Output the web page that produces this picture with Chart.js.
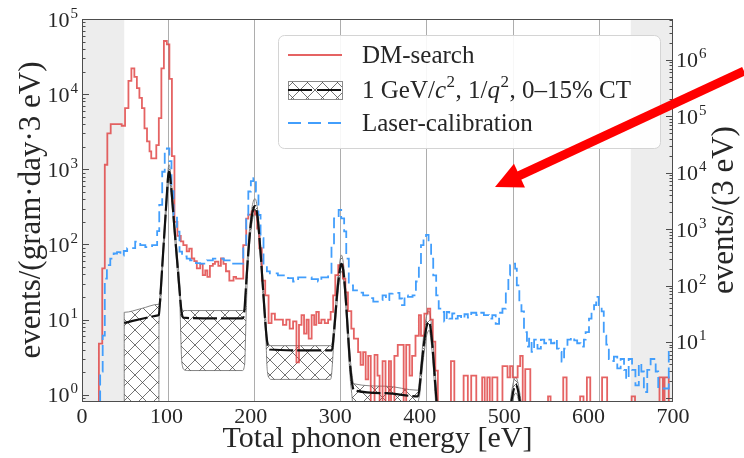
<!DOCTYPE html>
<html><head><meta charset="utf-8">
<script src="https://cdn.jsdelivr.net/npm/chart.js@4.4.1/dist/chart.umd.min.js"></script>
<style>html,body{margin:0;padding:0;background:#fff;overflow:hidden}</style>
</head><body>
<canvas id="c" width="744" height="458"></canvas>
<script>
// ---------------- data ----------------
// DM-search histogram (left axis): bin left edges (eV) + final right edge, and values
const redEdges = [0,20,24,27,30,34,47,51,55,58.5,62,65,68,71,74,77,80,82,88,91,94,97,100.5,103.5,106.5,109.5,113,117,120,124,127,130,133,136,140,143,146,148.5,151.5,155,157.5,161.5,164.5,167.5,170.5,174.5,179.5,182.5,191,194.5,197,201,205,207.5,210,213,217,221,224.5,228.5,238,242,246,250,254,257,260,263,266,268.5,272,275,277.5,280.5,283.5,287.5,291.5,294.5,297.5,300,303.5,309,312,315,319,322,327,330,333,336,339,342,346.5,350,352.5,356,359.5,363.5,366,370,374,381,384,388,391,395,399,401.5,405.5,409.5,412.5,415.5,418.5,421.5,437,441,452,457,461,467,474,477,480,483,486,492,498,504,507,510,516,519,522,525,531,552,555,570,574,590,594,598,602,616,622,651,655,684,688,690,695,700];
const redValues = [0,4.8,48,1150,3000,4000,3800,6500,15000,22000,17000,12000,8900,6500,3500,2350,1730,1400,2100,4800,22000,51000,46000,16000,1500,200,130,110,98,81,88,65,60,48,55,39,45,37,52,55,59,52,65,55,44,33,37,35,98,220,250,275,250,163,89,33,21,9,12,10,8.5,10,7.6,9.5,2.7,8.5,11.5,6.5,10,5.6,11.5,8.5,12.7,9,10,9,10,12.7,21,39,53,35,23,13,7.6,5.6,3.7,2.5,3.7,1.6,3.3,0,3.4,1.8,0,2.8,0,2.8,0,3.3,4.6,0,4.6,1.8,3.3,6.1,11.5,6.1,12,14,10,5.1,2.1,0,2.8,0,1.8,0,1.8,0,1.7,0,1.7,0,1.7,0,2.4,1.7,2.4,1.7,2.4,3.3,0,2.2,0,0.95,0,1.7,0,0.95,0,1.7,0,1.7,0,0.95,0,1.7,0,1.7,0];

// Laser-calibration histogram (right axis)
const blueEdges = [0,21.5,24.5,27,29.5,33.5,37.5,41.5,45.5,49.5,53.5,63,69,75,83,89,91.5,95,98,100.5,103.5,106,108.5,112.5,115.5,118.5,124,128,135,140,148,155,168,179,191,194.5,197,200,203,206,209,211.5,215,219,222.5,232,244,250,256,272,279.5,283.5,291.5,295.5,298.5,301.5,304,307,310.5,313,316,321,327,333,339,345,352,356,360,364,368,376,379,382,386,391.5,395.5,399,401.5,404.5,407.5,410.5,413.5,416,419.5,422.5,425.5,429,432,435,438.5,441,445,449,453,457,461,467,470.5,476,482,486,490,494,498,502,505,507,510,513,515,518,520.5,523.5,527,529.5,532.5,535.5,539.5,543.5,547.5,551.5,555.5,559.5,562.5,565,568,571,575,579,583,586.5,590.5,594.5,596.5,600.5,603.5,606.5,609,612,615.5,618,621,624,627,630,634,638,642,644.5,647.5,651.5,655.5,659.5,662.5,665.5,669.5,673.5,679.5,682.5,695,700];
const blueValues = [0,3,13,133,230,300,370,390,340,410,460,600,520,480,520,920,2700,10400,25000,27000,16000,4700,1780,900,400,330,300,280,250,245,280,300,280,245,455,1550,4650,7100,8000,4650,1780,690,230,178,165,152,135,118,140,130,118,140,160,520,1550,1700,2200,1550,910,300,101,82,75,67,60,52,55,67,55,72,74,59,45,67,63,67,118,230,520,690,790,600,300,152,67,39,34,23,34,26,32,26,29,26,31,27,33,30,33,30,26,30,21,33,39,78,152,230,245,200,101,52,35,15,8.3,11.5,6.7,11,7.6,11,9.5,11,9.5,11,7.6,6.7,4.5,7.6,11,12,10.7,9.5,8.3,11,15,26,35,45,63,45,35,13,9,5,4.6,5.5,3.4,5,3.2,2.2,5,3.2,1.7,4.2,3.0,1.3,3.2,5,3.0,1.5,6.7];

// Signal model 1 GeV/c^2, 1/q^2: central curve and 0-15% CT band
const signalX = [50,60,70,80,90,91,93,95,97,99,101,102,103,104,106,108,110,112,114,116,118,120,150,190,192,194,196,198,200,202,204,205,206,208,210,212,214,216,218,220,222,260,296,298,300,302,304,306,307,308,310,312,314,316,318,320,322,360,398,400,402,404,406,408,410,411,412,414,416,418,420,422,430,505,508,510,512,514,516,518,520,524,700];
const signalY = [9.0,9.6,10.2,10.8,11.4,11.6,22,50,112,250,560,800,930,870,520,270,140,75,40,21,12.5,10.6,10.4,10.4,12,25,55,110,190,270,320,325,310,230,130,65,30,14,7,4.5,4.0,3.9,3.9,6,11,21,35,50,55,54,40,22,10,4.5,2.2,1.4,1.15,1.05,0.95,1.3,2.3,3.8,5.8,8,9.2,9.3,8.8,6,3.3,1.6,0.8,0.4,0.2,0.2,0.7,1.0,1.25,1.35,1.2,0.9,0.6,0.2,0.2];
const bandX = [50,50.1,70,91,91.2,93,95,97,99,101,102,103,104,106,108,110,112,114,116,117,118,119,121,125,190,192,193,194,196,198,200,202,204,205,206,208,210,212,214,216,218,219,220,222,224,294,295.5,296.5,298,300,302,304,306,307,308,310,312,314,316,318,320,321,322,360,397,398,400,402,404,406,408,410,411,412,414,416,418,420,422,430,505,508,510,512,514,516,518,520,524,700];
const bandHigh = [12.5,12.5,14,16,16,27,62,140,310,700,1000,1150,1080,650,340,175,95,52,28,18,14,13.3,13.2,13.2,13.2,13.5,15,31,70,140,240,340,400,405,390,290,165,82,38,18,9,6,5,4.6,4.5,4.5,4.6,5,7.5,14,27,45,65,72,70,52,29,13,6,2.8,1.8,1.5,1.4,1.3,1.15,1.15,1.7,3,5.2,8,11,12.8,13,12.2,8.4,4.6,2.2,1.1,0.55,0.3,0.3,0.9,1.3,1.6,1.7,1.5,1.15,0.8,0.3,0.3];
const bandLow = [12.5,0.3,0.3,0.3,9,17,40,90,200,450,640,750,700,420,215,112,60,32,16,6,3.0,2.4,2.15,2.1,2.1,2.3,3,8,40,85,150,215,255,260,250,185,105,52,24,11,5,2.5,1.9,1.65,1.6,1.6,1.8,2.5,4.5,8.5,16,28,40,44,43,32,17,7.5,3.2,1.5,0.9,0.6,0.3,0.3,0.3,0.7,1.0,1.7,2.8,4.2,6,7,7.2,6.8,4.5,2.4,1.1,0.5,0.25,0.2,0.2,0.55,0.8,1.0,1.05,0.95,0.7,0.45,0.2,0.2];

// axes / annotations
const xTickValues = [0,100,200,300,400,500,600,700];
const peakLines = [102,204,306,408,510,612];
const shadeRanges = [[0,50],[650,700]];
const legendLabels = ['DM-search','1 GeV/c\u00b2, 1/q\u00b2, 0\u201315% CT','Laser-calibration'];
const xTitle = 'Total phonon energy [eV]';
const yTitle = 'events/(gram\u00b7day\u00b73 eV)';
const y2Title = 'events/(3 eV)';

// ---------------- styling ----------------
const FONT = "'Liberation Serif','DejaVu Serif',serif";
const RED = 'rgba(222,60,60,0.8)';
const BLUE = 'rgb(66,158,252)';
const INK = '#262626';

function stepPoints(edges, vals){
  const pts = vals.map((v,i)=>({x:edges[i], y: v>0 ? v : 0.01}));
  pts.push({x:edges[edges.length-1], y: vals[vals.length-1]>0 ? vals[vals.length-1] : 0.01});
  return pts;
}
function linePoints(xs, ys){ return xs.map((x,i)=>({x, y:ys[i]})); }

function hatchPattern(){
  const s = 15, c = document.createElement('canvas'); c.width = s; c.height = s;
  const g = c.getContext('2d');
  g.strokeStyle = 'rgba(60,60,60,0.8)'; g.lineWidth = 0.9;
  g.beginPath();
  g.moveTo(0,0); g.lineTo(s,s);
  g.moveTo(s,0); g.lineTo(0,s);
  g.stroke();
  return g.createPattern(c,'repeat');
}
const HATCH = hatchPattern();

function drawLogTicks(ctx, scale, xEdge, dir){
  const lo = Math.floor(Math.log10(scale.min)), hi = Math.ceil(Math.log10(scale.max));
  ctx.beginPath();
  for (let d=lo; d<=hi; d++) for (let m=1; m<=9; m++){
    const v = m*Math.pow(10,d);
    if (v < scale.min || v > scale.max) continue;
    const y = Math.round(scale.getPixelForValue(v)) + 0.5;
    const len = m===1 ? 7 : 3.5;
    ctx.moveTo(xEdge, y); ctx.lineTo(xEdge + dir*len, y);
  }
  ctx.stroke();
}
function drawPow(ctx, x, y, exp, align){
  ctx.font = `22px ${FONT}`; const bw = ctx.measureText('10').width;
  ctx.font = `15px ${FONT}`; const ew = ctx.measureText(String(exp)).width;
  const x0 = align==='right' ? x - bw - ew - 1 : x;
  ctx.textAlign = 'left'; ctx.textBaseline = 'alphabetic';
  ctx.font = `22px ${FONT}`; ctx.fillText('10', x0, y + 7.5);
  ctx.font = `15px ${FONT}`; ctx.fillText(String(exp), x0 + bw + 1, y - 1.5);
}
function drawRich(ctx, text, x, y, size){
  // superscript for '²', italic for a single letter following '/'
  let cx = x;
  for (let i=0; i<text.length; i++){
    const ch = text[i];
    if (ch === '\u00b2'){
      ctx.font = `${Math.round(size*0.68)}px ${FONT}`;
      ctx.fillText('2', cx + 0.5, y - size*0.33);
      cx += ctx.measureText('2').width + 1;
    } else {
      const it = i>0 && text[i-1]==='/' && /[a-z]/.test(ch);
      ctx.font = `${it?'italic ':''}${size}px ${FONT}`;
      ctx.fillText(ch, cx, y);
      cx += ctx.measureText(ch).width;
    }
  }
}

const deco = {
  id: 'deco',
  beforeDatasetsDraw(chart){
    const {ctx, chartArea:a, scales:{x}} = chart;
    ctx.save();
    ctx.fillStyle = '#ededed';
    shadeRanges.forEach(([s,e])=>{
      const x0 = x.getPixelForValue(s), x1 = x.getPixelForValue(e);
      ctx.fillRect(x0, a.top, x1-x0, a.bottom-a.top);
    });
    ctx.strokeStyle = '#adadad'; ctx.lineWidth = 1;
    peakLines.forEach(v=>{
      const px = Math.round(x.getPixelForValue(v)) + 0.5;
      ctx.beginPath(); ctx.moveTo(px, a.top); ctx.lineTo(px, a.bottom); ctx.stroke();
    });
    ctx.restore();
  },
  afterDatasetsDraw(chart){
    const {ctx, chartArea:a, scales:{y, y2}} = chart;
    ctx.save();
    ctx.strokeStyle = '#4d4d4d'; ctx.lineWidth = 1;
    ctx.strokeRect(Math.round(a.left)+0.5, Math.round(a.top)+0.5, Math.round(a.right-a.left)-1, Math.round(a.bottom-a.top));
    drawLogTicks(ctx, y, a.left, 1);
    drawLogTicks(ctx, y2, a.right, -1);
    ctx.fillStyle = INK;
    for (let d=0; d<=5; d++) drawPow(ctx, a.left-4, y.getPixelForValue(Math.pow(10,d)), d, 'right');
    for (let d=1; d<=6; d++) drawPow(ctx, a.right+3, y2.getPixelForValue(Math.pow(10,d)), d, 'left');
    ctx.restore();
  },
  afterDraw(chart){
    const {ctx, chartArea:a} = chart;
    ctx.save();
    ctx.fillStyle = INK;
    // axis titles
    ctx.textAlign = 'center'; ctx.textBaseline = 'middle';
    ctx.font = `30px ${FONT}`;
    ctx.fillText(xTitle, (a.left+a.right)/2, 439);
    ctx.save(); ctx.translate(32, (a.top+a.bottom)/2); ctx.rotate(-Math.PI/2);
    ctx.font = `31px ${FONT}`; ctx.fillText(yTitle, 0, 0); ctx.restore();
    ctx.save(); ctx.translate(725, (a.top+a.bottom)/2); ctx.rotate(-Math.PI/2);
    ctx.font = `31px ${FONT}`; ctx.fillText(y2Title, 0, 0); ctx.restore();

    // legend
    const lx = 278, ly = 35, lw = 382, lh = 113;
    ctx.beginPath(); ctx.roundRect(lx+0.5, ly+0.5, lw, lh, 6);
    ctx.fillStyle = 'rgba(255,255,255,0.9)'; ctx.fill();
    ctx.strokeStyle = '#d4d4d4'; ctx.lineWidth = 1; ctx.stroke();
    const sx0 = 288, sx1 = 342, rows = [55, 90, 123];
    ctx.lineWidth = 2; ctx.strokeStyle = RED; ctx.setLineDash([]);
    ctx.beginPath(); ctx.moveTo(sx0, rows[0]); ctx.lineTo(sx1, rows[0]); ctx.stroke();
    ctx.fillStyle = HATCH; ctx.fillRect(sx0, rows[1]-9, sx1-sx0, 18);
    ctx.strokeStyle = '#8a8a8a'; ctx.lineWidth = 1; ctx.strokeRect(sx0+0.5, rows[1]-8.5, sx1-sx0, 18);
    ctx.strokeStyle = '#111'; ctx.lineWidth = 2.2; ctx.setLineDash([24,5]);
    ctx.beginPath(); ctx.moveTo(sx0, rows[1]); ctx.lineTo(sx1, rows[1]); ctx.stroke();
    ctx.strokeStyle = BLUE; ctx.lineWidth = 2; ctx.setLineDash([13,7]);
    ctx.beginPath(); ctx.moveTo(sx0, rows[2]); ctx.lineTo(sx1, rows[2]); ctx.stroke();
    ctx.setLineDash([]);
    ctx.fillStyle = INK; ctx.textAlign = 'left'; ctx.textBaseline = 'middle';
    legendLabels.forEach((t,i)=> drawRich(ctx, t, 362, rows[i]+1, 25));

    // red annotation arrow
    const tail = [744, 71], tip = [495, 187];
    const dx = tip[0]-tail[0], dy = tip[1]-tail[1], L = Math.hypot(dx,dy), ux = dx/L, uy = dy/L;
    const hl = 27, hw = 13;
    const bx = tip[0]-ux*hl, by = tip[1]-uy*hl;
    ctx.strokeStyle = '#ff0000'; ctx.fillStyle = '#ff0000'; ctx.lineWidth = 9; ctx.lineCap = 'butt';
    ctx.beginPath(); ctx.moveTo(tail[0], tail[1]); ctx.lineTo(bx+ux*2, by+uy*2); ctx.stroke();
    ctx.beginPath(); ctx.moveTo(tip[0], tip[1]);
    ctx.lineTo(bx - uy*hw, by + ux*hw); ctx.lineTo(bx + uy*hw, by - ux*hw); ctx.closePath(); ctx.fill();
    ctx.restore();
  }
};

new Chart(document.getElementById('c'), {
  type: 'line',
  data: { datasets: [
    { label: 'signal', data: linePoints(signalX, signalY), yAxisID: 'y', borderColor: '#111', borderWidth: 2.2,
      borderDash: [24,4], pointRadius: 0, cubicInterpolationMode: 'monotone', fill: false, order: 0, clip: 0 },
    { label: 'Laser-calibration', data: stepPoints(blueEdges, blueValues), yAxisID: 'y2', borderColor: BLUE,
      borderWidth: 1.8, borderDash: [11,5], stepped: 'before', pointRadius: 0, fill: false, order: 1, clip: 0 },
    { label: 'DM-search', data: stepPoints(redEdges, redValues), yAxisID: 'y', borderColor: RED,
      borderWidth: 1.8, stepped: 'before', pointRadius: 0, fill: false, order: 2, clip: 0 },
    { label: 'band-high', data: linePoints(bandX, bandHigh), yAxisID: 'y', borderColor: 'rgba(120,120,120,0.9)',
      borderWidth: 1, pointRadius: 0, cubicInterpolationMode: 'monotone', fill: '+1', backgroundColor: HATCH, order: 3, clip: 0 },
    { label: 'band-low', data: linePoints(bandX, bandLow), yAxisID: 'y', borderColor: 'rgba(120,120,120,0.9)',
      borderWidth: 1, pointRadius: 0, cubicInterpolationMode: 'monotone', fill: false, order: 4, clip: 0 }
  ]},
  options: {
    responsive: false, animation: false, devicePixelRatio: 1,
    layout: { padding: { top: 19, left: 0, right: 0, bottom: 0 } },
    plugins: { legend: { display: false }, tooltip: { enabled: false } },
    scales: {
      x: { type: 'linear', min: 0, max: 700, bounds: 'data',
           afterBuildTicks: s => { s.ticks = xTickValues.map(v=>({value:v})); },
           afterFit: s => { s.height = 57; },
           grid: { display: false, drawTicks: false }, border: { display: false },
           ticks: { font: { family: FONT, size: 22 }, color: INK, padding: 3, maxRotation: 0 } },
      y: { type: 'logarithmic', position: 'left', min: 0.826, max: 1e5, bounds: 'data',
           afterFit: s => { s.width = 82; },
           grid: { display: false, drawTicks: false }, border: { display: false }, ticks: { display: false } },
      y2: { type: 'logarithmic', position: 'right', min: 0.9, max: 5.3e6, bounds: 'data',
           afterFit: s => { s.width = 71; },
           grid: { display: false, drawTicks: false }, border: { display: false }, ticks: { display: false } }
    }
  },
  plugins: [deco]
});
</script>
</body></html>
